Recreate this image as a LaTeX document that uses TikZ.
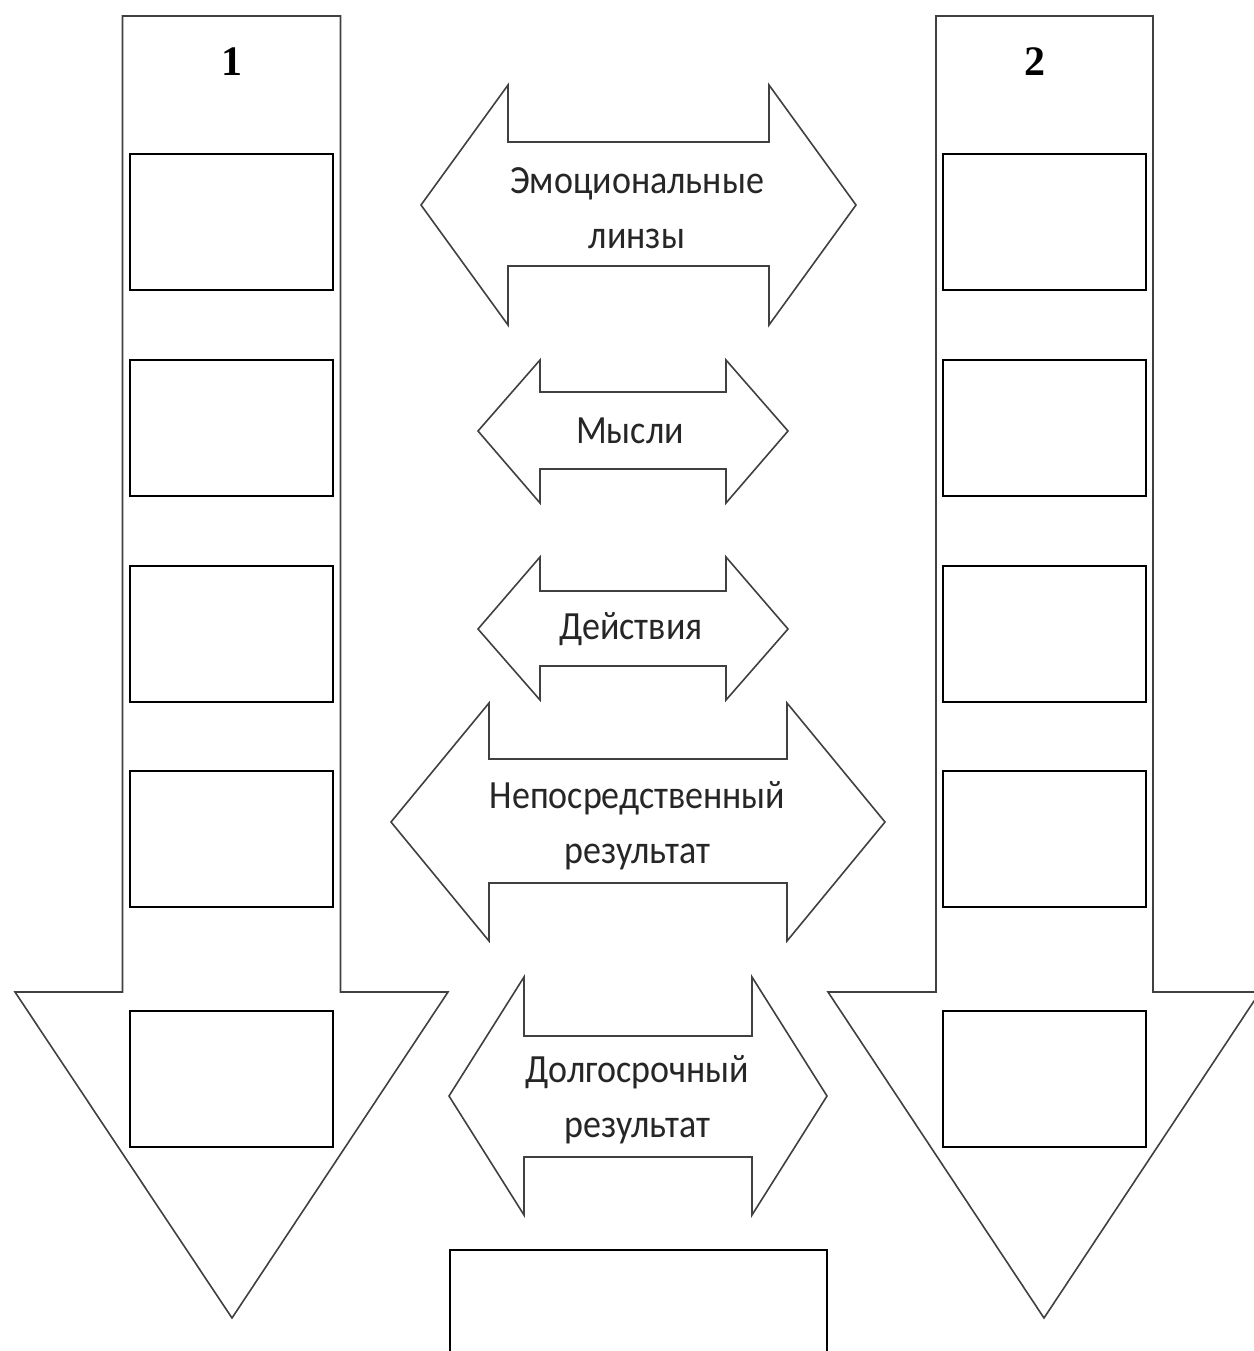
\documentclass[tikz,border=0pt]{standalone}
\usepackage{fontspec}
\setmainfont{Carlito}
\newfontfamily\lblfont[FakeStretch=0.9]{Carlito}
\newfontfamily\numfont{Liberation Serif}
\begin{document}
\begin{tikzpicture}[x=0.5pt,y=-0.5pt,
  outline/.style={draw=black!75,line width=0.8pt,line join=miter,fill=white},
  emptybox/.style={draw=black,line width=1.25pt,fill=white,minimum width=101.5pt,minimum height=68pt,inner sep=0pt},
  lbl/.style={align=center,text=black!85,font=\lblfont\fontsize{20}{27.5}\selectfont,inner sep=0pt},
  num/.style={font=\numfont\bfseries\fontsize{21}{24}\selectfont,inner sep=0pt}]
\useasboundingbox (0,0) rectangle (1254,1351);
% left down arrow
\draw[outline] (122.5,16) -- (340.5,16) -- (340.5,992) -- (448,992) -- (232,1318) -- (15,992) -- (122.5,992) -- cycle;
% right down arrow
\draw[outline] (936,16) -- (1153,16) -- (1153,992) -- (1260,992) -- (1044,1318) -- (828,992) -- (936,992) -- cycle;
\node[num] (n1) at (231.5,62) {1};
\node[num] (n2) at (1035,62) {2};
% boxes
\foreach \y [count=\i] in {222,428,634,839,1079}{
  \node[emptybox] (L\i) at (231.5,\y) {};
  \node[emptybox] (R\i) at (1044.5,\y) {};
}
% double arrows
\newcommand\dblarr[9]{% tipL tipR cy shL shR shTop shBot hTop hBot
  \draw[outline] (#1,#3) -- (#4,#8) -- (#4,#6) -- (#5,#6) -- (#5,#8) -- (#2,#3) -- (#5,#9) -- (#5,#7) -- (#4,#7) -- (#4,#9) -- cycle;}
\dblarr{421}{856}{205}{508}{769}{142}{266}{85}{325}
\dblarr{478}{788}{431}{540}{726}{392}{469}{360}{503}
\dblarr{478}{788}{629}{540}{726}{591}{666}{557}{700}
\dblarr{391}{885}{822}{489}{787}{759}{883}{703}{941}
\dblarr{449}{827}{1096}{524}{752}{1036}{1157}{977}{1215}
\node[lbl] (t1) at (637,208) {Эмоциональные\\линзы};
\node[lbl] (t2) at (630,431) {Мысли};
\node[lbl] (t3) at (631,629) {Действия};
\node[lbl] (t4) at (637.5,826) {Непосредственный\\результат};
\node[lbl] (t5) at (637.5,1100) {Долгосрочный\\результат};
% bottom box
\node[draw=black,line width=1.25pt,fill=white,minimum width=188.5pt,minimum height=60pt,inner sep=0pt] (res) at (638.5,1310) {};
\end{tikzpicture}
\end{document}
